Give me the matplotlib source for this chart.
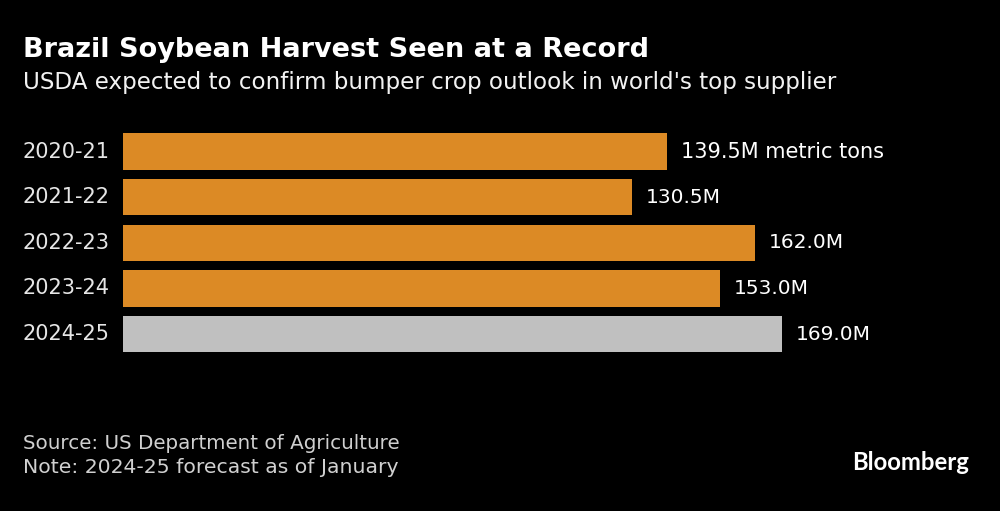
import matplotlib
matplotlib.use("Agg")
import matplotlib.pyplot as plt

seasons = ["2020-21", "2021-22", "2022-23", "2023-24", "2024-25"]
harvest = [139.5, 130.5, 162.0, 153.0, 169.0]
value_labels = ["139.5M metric tons", "130.5M", "162.0M", "153.0M", "169.0M"]
bar_colors = ["#DC8A25", "#DC8A25", "#DC8A25", "#DC8A25", "#C0C0C0"]
title = "Brazil Soybean Harvest Seen at a Record"
subtitle = "USDA expected to confirm bumper crop outlook in world's top supplier"
source = "Source: US Department of Agriculture"
note = "Note: 2024-25 forecast as of January"

W, H = 1000, 511
plt.rcParams["font.family"] = ["DejaVu Sans"]
fig = plt.figure(figsize=(W / 100, H / 100), dpi=100, facecolor="black")
ax = fig.add_axes([123 / W, 1 - 356.8 / H, (W - 123) / W, 228 / H], facecolor="black")
ax.barh(range(len(seasons)), harvest, height=0.8, color=bar_colors)
ax.set_xlim(0, (W - 123) / 3.9)
ax.set_ylim(len(seasons) - 0.5, -0.5)
ax.set_xticks([])
ax.set_yticks(range(len(seasons)), seasons)
ax.tick_params(axis="y", length=0, pad=9.4, labelsize=15, labelcolor="#E6E6E6")
for t in ax.get_yticklabels():
    t.set_verticalalignment("center")
for s in ax.spines.values():
    s.set_visible(False)
for i, (v, lab) in enumerate(zip(harvest, value_labels)):
    ax.annotate(lab, (v, i), xytext=(10, 0), textcoords="offset points", va="center",
                ha="left", color="white", fontsize=15.0 if i == 0 else 14.5)

fig.text(23 / W, 1 - 50 / H, title, color="white", fontsize=19.55, fontweight="bold", va="center", ha="left")
fig.text(23 / W, 1 - 82 / H, subtitle, color="#F2F2F2", fontsize=16.6, va="center", ha="left")
fig.text(23 / W, 1 - 443 / H, source, color="#D0D0D0", fontsize=14.3, va="center", ha="left")
fig.text(23 / W, 1 - 467 / H, note, color="#D0D0D0", fontsize=14.65, va="center", ha="left")
fig.text(969 / W, 1 - 462 / H, "Bloomberg", color="white", fontsize=17.2, fontweight="bold",
         family="Lato", va="center", ha="right")
fig.savefig("out.png", dpi=100, facecolor="black")
